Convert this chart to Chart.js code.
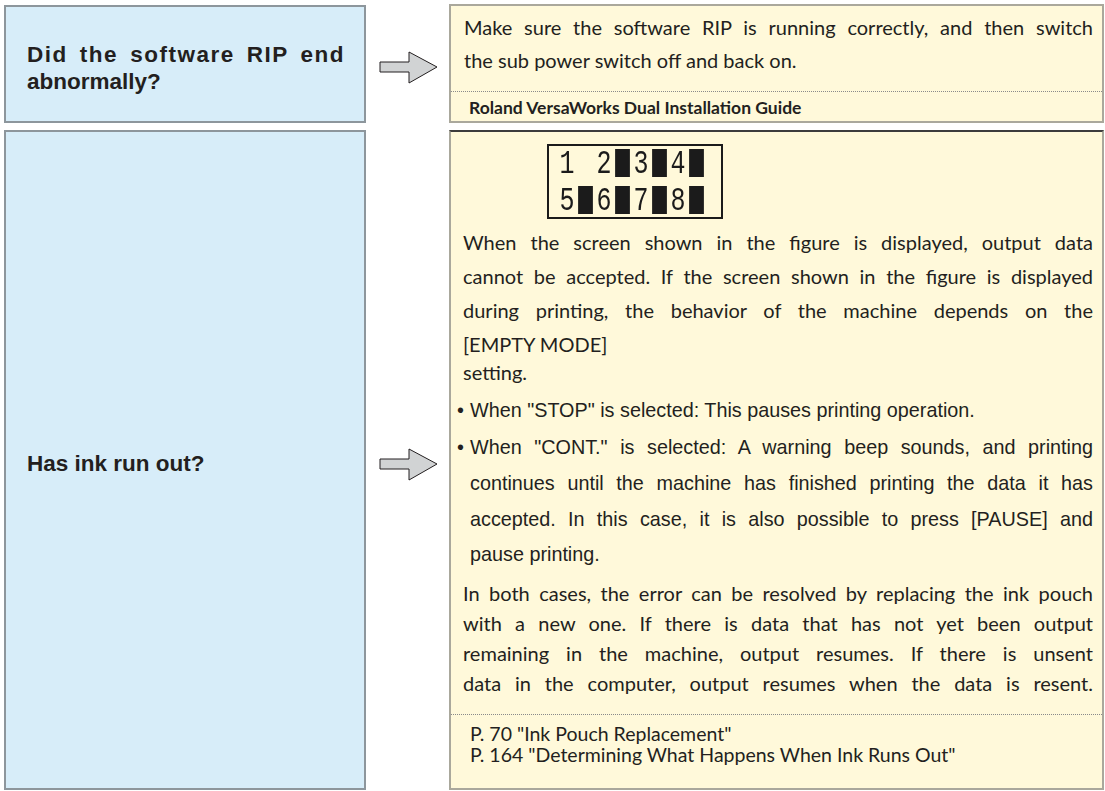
<!DOCTYPE html>
<html><head><meta charset="utf-8">
<script src="https://cdn.jsdelivr.net/npm/chart.js@4.4.1/dist/chart.umd.min.js"></script>
<style>
html,body{margin:0;padding:0;background:#fff;}
#page{position:relative;width:1105px;height:791px;overflow:hidden;background:#fff;}
.box{position:absolute;box-sizing:border-box;}
.q{background:#d7edf9;border:2px solid #8d969c;}
.a{background:#fff9da;border:2px solid #aaa89c;}
.ln{position:absolute;white-space:nowrap;color:#231f20;}
.qt{font-family:"Liberation Sans",Arial,sans-serif;font-weight:bold;font-size:22.5px;line-height:28px;}
.mp{font-family:Lato,"Open Sans",sans-serif;font-size:20px;line-height:30px;}
.rf{font-family:Lato,"Open Sans",sans-serif;font-size:19.5px;line-height:20px;}
.sb{font-family:Lato,"Open Sans",sans-serif;font-weight:700;font-size:17.5px;line-height:30px;}
.ar{font-family:"Liberation Sans",Arial,sans-serif;font-size:19.8px;line-height:30px;}
.dot{position:absolute;height:0;border-top:1px dotted #8a8a8a;}
#lcd{position:absolute;left:547px;top:144px;width:176px;height:75px;box-sizing:border-box;border:2px solid #1b1b1b;}
canvas.lcdrow{position:absolute;}
</style>
</head>
<body>
<div id="page">
  <div class="box q" style="left:4px;top:5px;width:362px;height:118px;"></div>
  <div class="box q" style="left:4px;top:130px;width:362px;height:660px;"></div>
  <div class="box a" style="left:449px;top:4px;width:655px;height:119px;"></div>
  <div class="box a" style="left:449px;top:130px;width:655px;height:660px;border-top-color:#3c3c3c;"></div>

  <svg style="position:absolute;left:0;top:0;" width="1105" height="791">
    <polygon points="380,62 409,62 409,52 437,67 409,83 409,72 380,72" fill="#d1d3d4" stroke="#231f20" stroke-width="1"/>
    <polygon points="380,459 409,459 409,449 437,464 409,480 409,469 380,469" fill="#d1d3d4" stroke="#231f20" stroke-width="1"/>
  </svg>

  <!-- left questions -->
  <div class="ln qt j" data-w="318" style="left:27px;top:41px;letter-spacing:1.5px;">Did the software RIP end</div>
  <div class="ln qt" style="left:27px;top:68px;">abnormally?</div>
  <div class="ln qt" style="left:27px;top:450px;">Has ink run out?</div>

  <!-- right box 1 -->
  <div class="ln mp j" data-w="629" style="left:464px;top:12px;">Make sure the software RIP is running correctly, and then switch</div>
  <div class="ln mp" style="left:464px;top:45px;">the sub power switch off and back on.</div>
  <div class="dot" style="left:451px;top:91px;width:651px;"></div>
  <div class="ln sb" style="left:469px;top:93px;">Roland VersaWorks Dual Installation Guide</div>

  <!-- right box 2 -->
  <div id="lcd"></div>
  <canvas id="row1" class="lcdrow" width="167" height="30" style="left:548px;top:148px;"></canvas>
  <canvas id="row2" class="lcdrow" width="167" height="30" style="left:548px;top:185px;"></canvas>

  <div class="ln mp j" data-w="630" style="left:463px;top:227px;">When the screen shown in the figure is displayed, output data</div>
  <div class="ln mp j" data-w="630" style="left:463px;top:261px;">cannot be accepted. If the screen shown in the figure is displayed</div>
  <div class="ln mp j" data-w="630" style="left:463px;top:295px;">during printing, the behavior of the machine depends on the</div>
  <div class="ln mp" style="left:463px;top:329px;">[EMPTY MODE]</div>
  <div class="ln mp" style="left:463px;top:357px;">setting.</div>

  <div class="ln ar" style="left:457px;top:395px;">•</div>
  <div class="ln ar" style="left:470px;top:395px;">When "STOP" is selected: This pauses printing operation.</div>
  <div class="ln ar" style="left:457px;top:432px;">•</div>
  <div class="ln ar j" data-w="623" style="left:470px;top:432px;">When "CONT." is selected: A warning beep sounds, and printing</div>
  <div class="ln ar j" data-w="623" style="left:470px;top:468px;">continues until the machine has finished printing the data it has</div>
  <div class="ln ar j" data-w="623" style="left:470px;top:504px;">accepted. In this case, it is also possible to press [PAUSE] and</div>
  <div class="ln ar" style="left:470px;top:539px;">pause printing.</div>

  <div class="ln mp j" data-w="630" style="left:463px;top:578px;">In both cases, the error can be resolved by replacing the ink pouch</div>
  <div class="ln mp j" data-w="630" style="left:463px;top:608px;">with a new one. If there is data that has not yet been output</div>
  <div class="ln mp j" data-w="630" style="left:463px;top:638px;">remaining in the machine, output resumes. If there is unsent</div>
  <div class="ln mp j" data-w="630" style="left:463px;top:668px;">data in the computer, output resumes when the data is resent.</div>
  <div class="dot" style="left:451px;top:714px;width:651px;"></div>
  <div class="ln rf" style="left:470px;top:724px;">P. 70 "Ink Pouch Replacement"</div>
  <div class="ln rf" style="left:470px;top:745px;">P. 164 "Determining What Happens When Ink Runs Out"</div>
</div>

<script>
// LCD ink status display: slot labels and remaining-ink blocks (0 = ink out)
const inkSlotsRow1 = ['1', '2', '3', '4'];
const inkLevelsRow1 = [0, 1, 1, 1];
const inkSlotsRow2 = ['5', '6', '7', '8'];
const inkLevelsRow2 = [1, 1, 1, 1];

const lcdDigits = {
  id: 'lcdDigits',
  afterDatasetsDraw(chart) {
    const xs = chart.scales.x, a = chart.chartArea, ctx = chart.ctx;
    const pitch = (a.right - a.left) / chart.data.labels.length;
    const yc = (a.top + a.bottom) / 2;
    ctx.save();
    ctx.fillStyle = '#1b1b1b';
    ctx.textAlign = 'center';
    ctx.textBaseline = 'middle';
    chart.data.labels.forEach((lab, i) => {
      const x = xs.getPixelForValue(i) - pitch / 2;
      ctx.save();
      ctx.translate(x, yc);
      ctx.scale(1, 1.3);
      ctx.font = '25px "Liberation Mono"';
      ctx.fillText(lab, 0, 1);
      ctx.restore();
    });
    ctx.restore();
  }
};

function lcdRow(id, slots, levels) {
  return new Chart(document.getElementById(id), {
    type: 'bar',
    data: {
      labels: slots,
      datasets: [{
        data: levels,
        backgroundColor: '#1b1b1b',
        borderWidth: 0,
        barPercentage: 0.4,
        categoryPercentage: 1
      }]
    },
    options: {
      responsive: false,
      animation: false,
      events: [],
      layout: { padding: { left: 19, right: 0, top: 1, bottom: 1 } },
      plugins: { legend: { display: false }, tooltip: { enabled: false } },
      scales: {
        x: { display: false, offset: true },
        y: { display: false, min: 0, max: 1 }
      }
    },
    plugins: [lcdDigits]
  });
}
lcdRow('row1', inkSlotsRow1, inkLevelsRow1);
lcdRow('row2', inkSlotsRow2, inkLevelsRow2);

function fitLines() {
  document.querySelectorAll('.j').forEach(el => {
    el.style.wordSpacing = '0px';
    const target = parseFloat(el.dataset.w);
    const nat = el.getBoundingClientRect().width;
    const spaces = (el.textContent.match(/ /g) || []).length;
    if (spaces > 0) el.style.wordSpacing = ((target - nat) / spaces) + 'px';
  });
}
fitLines();
if (document.fonts && document.fonts.ready) document.fonts.ready.then(fitLines);
</script>
</body></html>
